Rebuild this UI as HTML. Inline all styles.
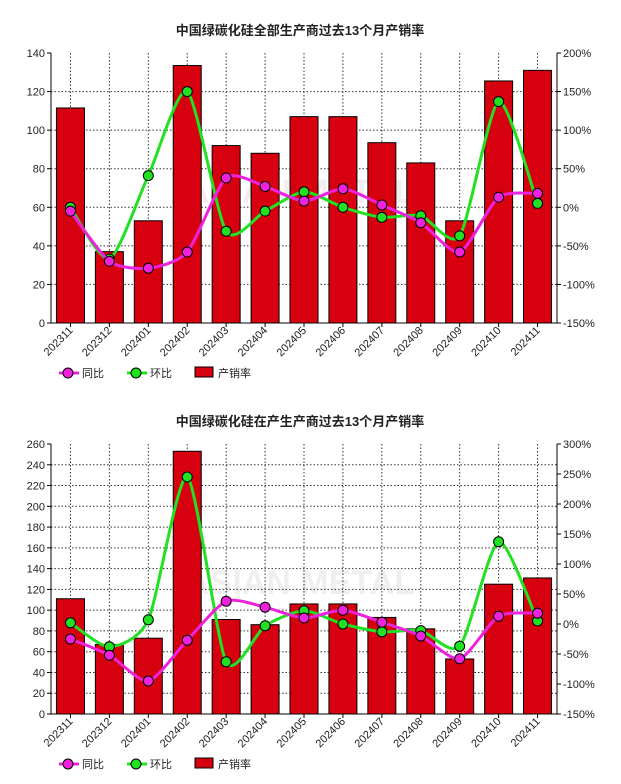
<!DOCTYPE html>
<html><head><meta charset="utf-8"><style>
body{margin:0;background:#fff;}
svg{display:block;font-family:"Liberation Sans","Noto Sans CJK SC",sans-serif;}
</style></head><body>
<svg id="s" width="621" height="784" xmlns="http://www.w3.org/2000/svg"></svg>
<script>
const S=document.getElementById('s');let h='';
const labels=['202311','202312','202401','202402','202403','202404','202405','202406','202407','202408','202409','202410','202411'];
function curve(pts){let d='M'+pts[0][0]+','+pts[0][1];for(let i=0;i<pts.length-1;i++){const p0=pts[i-1]||pts[i],p1=pts[i],p2=pts[i+1],p3=pts[i+2]||p2;const t=0.35/3;
d+=` C${p1[0]+(p2[0]-p0[0])*t},${p1[1]+(p2[1]-p0[1])*t} ${p2[0]-(p3[0]-p1[0])*t},${p2[1]-(p3[1]-p1[1])*t} ${p2[0]},${p2[1]}`;}return d;}
function chart(o){
 const L=51,R=557,T=o.top,B=o.top+270,cw=(R-L)/13;
 h+=`<text x="300" y="${T-18}" font-size="13" font-weight="bold" text-anchor="middle" fill="#222">${o.title}</text>`;
 for(let i=1;i<o.ln;i++){const y=B-i*270/o.ln;h+=`<line x1="${L}" x2="${R}" y1="${y}" y2="${y}" stroke="#333" stroke-dasharray="1.5,2" stroke-width="1"/>`;}
 for(let i=0;i<13;i++){const x=L+cw*(i+.5);h+=`<line x1="${x}" x2="${x}" y1="${T}" y2="${B}" stroke="#333" stroke-dasharray="1.5,2"/>`;}
 h+=`<text x="300" y="${T+150}" font-size="34" font-weight="bold" fill="#000" opacity="0.06" text-anchor="middle">ASIAN METAL</text>`;
 o.bars.forEach((v,i)=>{const x=L+cw*(i+.5);const y=B-v/o.lmax*270;h+=`<rect x="${x-14}" y="${y}" width="28" height="${B-y}" fill="#d7000f" stroke="#000" stroke-width="1"/>`;});
 h+=`<line x1="${L}" x2="${L}" y1="${T}" y2="${B}" stroke="#000"/><line x1="${R}" x2="${R}" y1="${T}" y2="${B}" stroke="#000"/><line x1="${L}" x2="${R}" y1="${B}" y2="${B}" stroke="#000"/>`;
 for(let i=0;i<=o.ln;i++){const y=B-i*270/o.ln;h+=`<line x1="${L-4}" x2="${L}" y1="${y}" y2="${y}" stroke="#000"/><text x="${L-6}" y="${y+4}" font-size="11" text-anchor="end" fill="#222">${i*o.lmax/o.ln}</text>`;}
 for(let i=0;i<=o.rn;i++){const y=B-i*270/o.rn;const v=-150+i*50;h+=`<line x1="${R}" x2="${R+4}" y1="${y}" y2="${y}" stroke="#000"/><text x="${R+6}" y="${y+4}" font-size="11" fill="#222">${v}%</text>`;}
 for(let i=0;i<13;i++){const x=L+cw*(i+.5);h+=`<line x1="${x}" x2="${x}" y1="${B}" y2="${B+4}" stroke="#000"/><text transform="translate(${x+3},${B+8}) rotate(-45)" font-size="11" text-anchor="end" fill="#222">${labels[i]}</text>`;}
 const ry=v=>B-(v+150)/(o.rn*50)*270;
 const series=[[o.mom,'#22e022'],[o.yoy,'#ee22dd']];
 series.forEach(([d,c])=>{const pts=d.map((v,i)=>[L+cw*(i+.5),ry(v)]);h+=`<path d="${curve(pts)}" fill="none" stroke="${c}" stroke-width="3"/>`;pts.forEach(p=>h+=`<circle cx="${p[0]}" cy="${p[1]}" r="5" fill="${c}" stroke="#000"/>`);});
 const ly=B+50;
 h+=`<line x1="59" x2="79" y1="${ly}" y2="${ly}" stroke="#ee22dd" stroke-width="3"/><circle cx="68" cy="${ly}" r="5" fill="#ee22dd" stroke="#000"/><text x="82" y="${ly+4}" font-size="11" fill="#222">同比</text>`;
 h+=`<line x1="127" x2="147" y1="${ly}" y2="${ly}" stroke="#22e022" stroke-width="3"/><circle cx="136" cy="${ly}" r="5" fill="#22e022" stroke="#000"/><text x="150" y="${ly+4}" font-size="11" fill="#222">环比</text>`;
 h+=`<rect x="195" y="${ly-6}" width="18" height="10" fill="#d7000f" stroke="#000"/><text x="218" y="${ly+4}" font-size="11" fill="#222">产销率</text>`;
}
chart({top:53,title:'中国绿碳化硅全部生产商过去13个月产销率',lmax:140,ln:7,rn:7,
 bars:[111.5,37,53,133.5,92,88,107,107,93.5,83,53,125.5,131],
 yoy:[-5,-70,-79,-58,38,27,8,24,3,-20,-58,13,18],
 mom:[0,-67,41,150,-31,-5,20,0,-13,-11,-37,137,5]});
chart({top:444,title:'中国绿碳化硅在产生产商过去13个月产销率',lmax:260,ln:13,rn:9,
 bars:[111,67,73,253,91,86,106,106,93,82,53,125,131],
 yoy:[-25,-52,-95,-27,38,28,10,23,3,-20,-58,13,18],
 mom:[2,-38,7,245,-63,-3,22,0,-13,-11,-37,137,5]});
S.innerHTML=h;
</script>
</body></html>
